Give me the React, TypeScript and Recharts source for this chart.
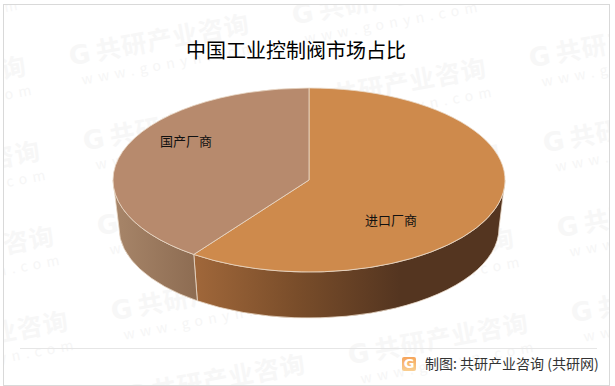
import { Pie, PieChart } from "recharts";

const categories = ["进口厂商", "国产厂商"];
const shares = [60, 40];
const topColors = ["#CE8A4C", "#B78A6D"];
const wallFills = ["url(#wallImport)", "url(#wallLocal)"];
// label shift from the pie centre, the label does not sit on the slice's mid angle
const labelShift = [
  [82, 39],
  [-123, -40],
];

const data = categories.map((name, i) => ({ name, value: shares[i] }));

const RY = 92;
const WALL_RX = 190;
const WALL_RY = 90;
const WALL_DROP = 48;
const EDGE = "#ead9c8";
const RAD = Math.PI / 180;

const topPoint = (cx: number, cy: number, r: number, a: number) => [
  cx + r * Math.cos(a * RAD),
  cy - RY * Math.sin(a * RAD),
];
const wallPoint = (cx: number, cy: number, a: number) => [
  cx + WALL_RX * Math.cos(a * RAD),
  cy + WALL_DROP - WALL_RY * Math.sin(a * RAD),
];

function TopSlice(props: any) {
  const { cx, cy, outerRadius, startAngle, endAngle, index } = props;
  const [x1, y1] = topPoint(cx, cy, outerRadius, startAngle);
  const [x2, y2] = topPoint(cx, cy, outerRadius, endAngle);
  const large = Math.abs(endAngle - startAngle) > 180 ? 1 : 0;
  const d = `M${cx},${cy} L${x1},${y1} A${outerRadius},${RY} 0 ${large} 1 ${x2},${y2} Z`;
  return <path d={d} fill={topColors[index]} stroke={EDGE} strokeWidth={0.8} />;
}

function WallSlice(props: any) {
  const { cx, cy, outerRadius, startAngle, endAngle, index } = props;
  // only the front half of the rim can be seen
  const from = Math.min(startAngle, 0);
  const to = Math.max(endAngle, -180);
  const [x1, y1] = topPoint(cx, cy, outerRadius, from);
  const [x2, y2] = topPoint(cx, cy, outerRadius, to);
  const [x3, y3] = wallPoint(cx, cy, to);
  const [x4, y4] = wallPoint(cx, cy, from);
  const d =
    `M${x1},${y1} A${outerRadius},${RY} 0 0 1 ${x2},${y2} L${x3},${y3} ` +
    `A${WALL_RX},${WALL_RY} 0 0 0 ${x4},${y4} Z`;
  return <path d={d} fill={wallFills[index]} stroke={EDGE} strokeWidth={0.8} />;
}

function renderLabel(props: any) {
  const { cx, cy, index } = props;
  return (
    <text
      x={cx + labelShift[index][0]}
      y={cy + labelShift[index][1]}
      textAnchor="middle"
      dominantBaseline="central"
      fontSize={13}
      fontFamily="'Noto Sans CJK SC'"
      fill="#111"
    >
      {categories[index]}
    </text>
  );
}

function Watermarks() {
  const marks = [];
  for (let col = -1; col < 4; col++) {
    for (let row = -1; row < 6; row++) {
      const left = 66 + col * 223 + row * 14;
      const top = 40 + col * -41.5 + row * 85;
      if (left > 610 || top > 385 || top < -50) continue;
      marks.push(
        <div
          key={`${col}-${row}`}
          style={{
            position: "absolute",
            left,
            top,
            width: 200,
            transform: "rotate(-10.5deg)",
            transformOrigin: "0 0",
            color: "#f7f7f7",
            whiteSpace: "nowrap",
            fontFamily: "'Noto Sans CJK SC'",
          }}
        >
          <div style={{ fontSize: 25, fontWeight: 700, lineHeight: "30px", letterSpacing: 1 }}>
            <span style={{ fontFamily: "'DejaVu Sans'", fontSize: 26, marginRight: 5 }}>G</span>
            共研产业咨询
          </div>
          <div style={{ fontSize: 14, lineHeight: "18px", letterSpacing: 5.5, marginLeft: 8, color: "#f6f6f6" }}>
            www.gonyn.com
          </div>
        </div>
      );
    }
  }
  return <>{marks}</>;
}

export default function App() {
  return (
    <div style={{ position: "absolute", left: 0, top: 0, width: 615, height: 386, background: "#fff" }}>
      <div
        style={{
          position: "absolute",
          left: 3,
          top: 4,
          width: 605,
          height: 380,
          border: "1px solid #d9d9d9",
          overflow: "hidden",
        }}
      >
        <div style={{ position: "absolute", left: -4, top: -5 }}>
          <Watermarks />
        </div>
      </div>

      <div style={{ position: "absolute", left: 0, top: 0 }}>
        <PieChart width={615} height={386} margin={{ top: 0, right: 0, bottom: 0, left: 0 }}>
          <defs>
            <linearGradient id="wallImport" gradientUnits="userSpaceOnUse" x1={195} y1={0} x2={400} y2={0}>
              <stop offset="0%" stopColor="#A0673A" />
              <stop offset="50%" stopColor="#794D2A" />
              <stop offset="100%" stopColor="#543520" />
            </linearGradient>
            <linearGradient id="wallLocal" gradientUnits="userSpaceOnUse" x1={118} y1={0} x2={197} y2={0}>
              <stop offset="0%" stopColor="#A68468" />
              <stop offset="100%" stopColor="#8D6C52" />
            </linearGradient>
          </defs>
          <Pie
            data={data}
            dataKey="value"
            nameKey="name"
            cx={309}
            cy={180}
            outerRadius={196}
            startAngle={90}
            endAngle={-270}
            shape={WallSlice}
            isAnimationActive={false}
            legendType="none"
          />
          <Pie
            data={data}
            dataKey="value"
            nameKey="name"
            cx={309}
            cy={180}
            outerRadius={196}
            startAngle={90}
            endAngle={-270}
            shape={TopSlice}
            label={renderLabel}
            labelLine={false}
            isAnimationActive={false}
            legendType="none"
          />
        </PieChart>
      </div>

      <div
        style={{
          position: "absolute",
          left: 186,
          top: 36,
          fontSize: 20,
          lineHeight: "28px",
          fontFamily: "'Noto Sans CJK SC'",
          color: "#000",
          whiteSpace: "nowrap",
        }}
      >
        中国工业控制阀市场占比
      </div>

      <div style={{ position: "absolute", left: 20, top: 348, width: 577, height: 1, background: "#e6e6e6" }} />
      <div
        style={{
          position: "absolute",
          left: 402,
          top: 357,
          width: 14,
          height: 14,
          borderRadius: 2,
          background: "linear-gradient(180deg, #f6a55c, #f9cf92)",
          color: "#fff",
          fontSize: 13,
          lineHeight: "14px",
          fontWeight: 700,
          textAlign: "center",
          fontFamily: "'DejaVu Sans'",
        }}
      >
        G
      </div>
      <div
        style={{
          position: "absolute",
          left: 425,
          top: 353,
          fontSize: 14,
          lineHeight: "20px",
          fontFamily: "'Noto Sans CJK SC'",
          color: "#333",
          whiteSpace: "nowrap",
        }}
      >
        制图: 共研产业咨询 (共研网)
      </div>
    </div>
  );
}
